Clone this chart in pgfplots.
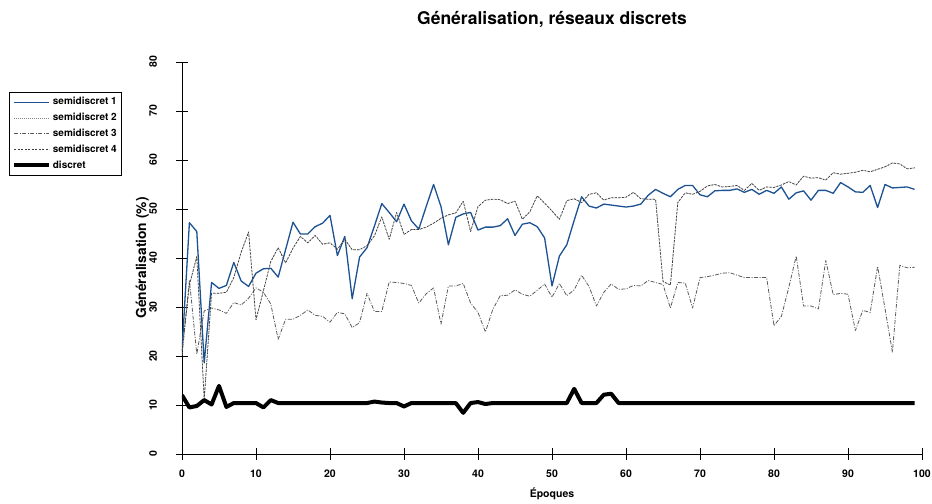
\documentclass[border=0pt]{standalone}
\usepackage{fontspec}
\setmainfont{TeX Gyre Heros}
\usepackage{pgfplots}
\usepackage{pgfplotstable}
\pgfplotsset{compat=1.18}
\definecolor{sblue}{RGB}{28,82,145}
\definecolor{sgrey}{RGB}{90,90,90}
\definecolor{sdark}{RGB}{60,60,60}

\pgfplotstableread{
x s1 s2 s3 d
0 21.0 21.0 20.0 12.0
1 47.2 34.5 35.5 9.5
2 45.4 40.3 20.4 9.8
3 18.6 11.2 29.2 11.0
4 35.0 32.8 29.8 10.1
5 33.8 32.8 29.4 13.9
6 34.4 33.0 28.7 9.6
7 39.1 36.0 30.9 10.4
8 35.3 41.2 30.4 10.4
9 34.2 45.3 31.8 10.4
10 36.9 27.4 33.9 10.4
11 37.8 33.3 33.0 9.5
12 37.9 39.3 30.6 11.0
13 36.1 42.1 23.4 10.4
14 41.7 39.0 27.5 10.4
15 47.3 42.0 27.5 10.4
16 44.9 44.4 28.3 10.4
17 44.9 43.1 29.4 10.4
18 46.4 44.6 28.3 10.4
19 47.1 42.8 28.1 10.4
20 48.7 43.1 26.9 10.4
21 40.5 41.8 28.9 10.4
22 44.4 43.8 28.6 10.4
23 31.7 41.7 25.8 10.4
24 40.2 41.7 26.8 10.4
25 42.1 42.5 32.8 10.4
26 46.5 44.5 29.1 10.7
27 51.1 48.4 29.1 10.5
28 49.3 43.8 35.1 10.4
29 47.4 49.3 35.0 10.4
30 51.0 44.8 34.8 9.7
31 47.6 45.8 34.4 10.4
32 45.9 45.8 30.8 10.4
33 50.5 46.3 32.7 10.4
34 55.0 47.1 33.9 10.4
35 50.5 48.1 26.5 10.4
36 42.7 48.8 34.3 10.4
37 48.3 49.2 34.3 10.4
38 49.0 51.6 34.8 8.4
39 49.3 45.4 30.8 10.4
40 45.7 50.5 28.9 10.6
41 46.3 51.8 24.9 10.2
42 46.3 52.0 29.5 10.4
43 46.6 51.9 32.3 10.4
44 48.0 51.1 32.4 10.4
45 44.6 51.6 33.5 10.4
46 46.9 47.9 32.6 10.4
47 47.2 49.4 32.2 10.4
48 46.4 52.7 33.4 10.4
49 44.1 51.2 34.7 10.4
50 34.3 49.6 32.0 10.4
51 40.4 47.9 34.8 10.4
52 42.7 51.7 32.3 10.4
53 47.7 52.1 33.5 13.3
54 52.5 51.3 36.5 10.4
55 50.6 53.0 34.2 10.4
56 50.2 53.3 30.2 10.4
57 51.0 51.8 33.0 12.1
58 50.8 52.3 34.7 12.3
59 50.6 52.3 33.6 10.4
60 50.4 52.4 33.7 10.4
61 50.6 53.4 34.4 10.4
62 51.0 52.1 34.3 10.4
63 52.8 52.0 35.4 10.4
64 54.0 52.0 35.0 10.4
65 53.2 35.2 34.6 10.4
66 52.5 34.5 29.8 10.4
67 54.0 51.3 35.0 10.4
68 54.8 53.3 34.9 10.4
69 54.8 53.0 29.8 10.4
70 52.9 53.6 36.0 10.4
71 52.5 54.7 36.2 10.4
72 53.7 55.0 36.5 10.4
73 53.8 54.5 36.9 10.4
74 53.8 54.6 37.0 10.4
75 54.1 54.8 36.5 10.4
76 53.4 53.8 36.0 10.4
77 54.0 55.2 36.0 10.4
78 53.0 53.8 36.0 10.4
79 53.8 54.5 36.0 10.4
80 53.2 54.4 26.2 10.4
81 54.5 54.9 28.1 10.4
82 52.0 55.6 34.0 10.4
83 53.3 54.9 40.4 10.4
84 53.7 56.7 30.2 10.4
85 51.8 56.3 30.2 10.4
86 53.8 56.4 29.6 10.4
87 53.8 55.9 39.5 10.4
88 53.2 57.4 32.5 10.4
89 55.4 57.1 32.8 10.4
90 54.5 57.3 32.6 10.4
91 53.5 57.5 25.2 10.4
92 53.4 57.9 29.3 10.4
93 54.8 57.6 28.9 10.4
94 50.3 58.1 38.3 10.4
95 55.0 58.6 29.7 10.4
96 54.3 59.4 20.8 10.4
97 54.4 59.2 38.5 10.4
98 54.5 58.2 38.0 10.4
99 54.0 58.4 38.1 10.4
}\datatable

\begin{document}
\begin{tikzpicture}
\begin{axis}[
  at={(0,0)}, anchor=south west,
  width=740bp, height=392bp, scale only axis,
  xmin=0, xmax=100, ymin=0, ymax=80,
  axis lines=left,
  axis line style={-, line width=0.8bp, black},
  xtick={0,10,...,100}, ytick={0,10,...,80},
  tick align=center, major tick length=12bp,
  tick style={black, line width=0.8bp},
  /pgf/number format/assume math mode=true,
  tick label style={font=\fontsize{10.5bp}{12bp}\selectfont\bfseries},
  xticklabel style={anchor=base, yshift=-17.5bp},
  yticklabel style={xshift=-19bp, rotate=90, anchor=base},
  every axis title/.style={at={(0.5,1.0944)}, anchor=base,
    font=\fontsize{17.5bp}{20bp}\selectfont\bfseries},
  every axis x label/.style={at={(0.5,-0.1122)}, anchor=base,
    font=\fontsize{10.5bp}{12bp}\selectfont\bfseries},
  every axis y label/.style={at={(-0.04865,0.5)}, rotate=90, anchor=base,
    font=\fontsize{13.8bp}{16bp}\selectfont\bfseries},
  title={Généralisation, réseaux discrets},
  xlabel={Époques},
  ylabel={Généralisation (\%)},
  legend style={at={(-0.2338,0.9235)}, anchor=north west, draw=black,
    line width=0.8bp, font=\fontsize{10bp}{12bp}\selectfont\bfseries,
    inner xsep=3bp, inner ysep=2bp, row sep=0bp, cells={anchor=west},
    nodes={inner xsep=1.5bp, inner ysep=3.15bp, text height=7.3bp, text depth=2.2bp}},
  legend image code/.code={\draw[#1] (0bp,0bp) -- (35bp,0bp);},
  every axis plot/.append style={line join=round},
]
\addplot[sblue, line width=1.3bp] table[x=x,y=s1]{\datatable};
\addlegendentry{semidiscret 1}
\addplot[sgrey!75, line width=0.8bp, dash pattern=on 0.8bp off 1.2bp] table[x=x,y=s2]{\datatable};
\addlegendentry{semidiscret 2}
\addplot[sgrey, line width=0.8bp, dash pattern=on 4bp off 1.5bp on 1bp off 1.5bp] table[x=x,y=s3]{\datatable};
\addlegendentry{semidiscret 3}
\addplot[sdark, line width=0.7bp, dash pattern=on 2bp off 1.5bp] table[x=x,y=s2]{\datatable};
\addlegendentry{semidiscret 4}
\addplot[black, line width=4bp] table[x=x,y=d]{\datatable};
\addlegendentry{discret}
\end{axis}
\pgfresetboundingbox
\path (-182bp,-50bp) rectangle (750bp,454bp);
\end{tikzpicture}
\end{document}
